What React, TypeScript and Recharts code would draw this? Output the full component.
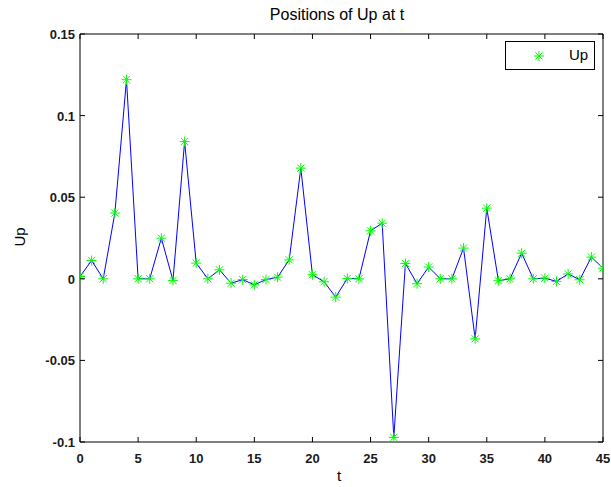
import React from "react";
import { LineChart, Line, XAxis, YAxis, ReferenceArea } from "recharts";

const tValues = [0,1,2,3,4,5,6,7,8,9,10,11,12,13,14,15,16,17,18,19,20,21,22,23,24,25,26,27,28,29,30,31,32,33,34,35,36,37,38,39,40,41,42,43,44,45];
const upValues = [0.0014,0.0112,0,0.0403,0.122,0,0,0.0249,-0.001,0.0841,0.0096,0,0.0055,-0.0027,-0.0005,-0.0037,-0.0005,0.001,0.0116,0.0678,0.0025,-0.0018,-0.0112,0.0002,0,0.0294,0.0341,-0.0972,0.0094,-0.003,0.0072,0,0,0.0188,-0.0368,0.0433,-0.0012,0,0.0157,0,0.0004,-0.0016,0.003,-0.0006,0.0133,0.0065];
const xTicks = [0,5,10,15,20,25,30,35,40,45];
const yTicks = [-0.1,-0.05,0,0.05,0.1,0.15];
const yTickLabels = ["-0.1","-0.05","0","0.05","0.1","0.15"];

const data = tValues.map((t, i) => ({ t, Up: upValues[i] }));

const W = 611, H = 487;
const M = { top: 34, right: 8, bottom: 0, left: 0 };
const YW = 80, XH = 45;
const PLOT_TOP = M.top;
const PLOT_BOTTOM = H - XH;
const PLOT_LEFT = YW;
const PLOT_RIGHT = W - M.right;
const FONT = "Arial, 'Liberation Sans', Helvetica, sans-serif";

const Star = ({ cx, cy, r = 5 }: any) => {
  const d = r * 0.72;
  return (
    <g stroke="#00ff00" strokeWidth={1}>
      <line x1={cx - r} y1={cy} x2={cx + r} y2={cy} />
      <line x1={cx} y1={cy - r} x2={cx} y2={cy + r} />
      <line x1={cx - d} y1={cy - d} x2={cx + d} y2={cy + d} />
      <line x1={cx - d} y1={cy + d} x2={cx + d} y2={cy - d} />
    </g>
  );
};

const StarDot = (props: any) => {
  const { cx, cy, index } = props;
  if (cx == null || cy == null) return <g key={index} />;
  return <Star key={index} cx={cx} cy={cy} />;
};

const XTick = (props: any) => {
  const { x, payload } = props;
  return (
    <g>
      <line x1={x} y1={PLOT_BOTTOM} x2={x} y2={PLOT_BOTTOM - 5} stroke="#000" />
      <line x1={x} y1={PLOT_TOP} x2={x} y2={PLOT_TOP + 5} stroke="#000" />
      <text x={x} y={PLOT_BOTTOM + 21} textAnchor="middle" fontSize={13} fontWeight="bold" fill="#1a1a1a" fontFamily={FONT}>
        {payload.value}
      </text>
    </g>
  );
};

const YTick = (props: any) => {
  const { y, payload } = props;
  return (
    <g>
      <line x1={PLOT_LEFT} y1={y} x2={PLOT_LEFT + 5} y2={y} stroke="#000" />
      <line x1={PLOT_RIGHT} y1={y} x2={PLOT_RIGHT - 5} y2={y} stroke="#000" />
      <text x={PLOT_LEFT - 5} y={y + 5} textAnchor="end" fontSize={13} fontWeight="bold" fill="#1a1a1a" fontFamily={FONT}>
        {yTickLabels[yTicks.indexOf(payload.value)] ?? payload.value}
      </text>
    </g>
  );
};

export default function App() {
  return (
    <div style={{ position: "absolute", left: 0, top: 0, width: W, height: H, background: "#fff" }}>
      <LineChart width={W} height={H} data={data} margin={M}>
        <XAxis
          dataKey="t"
          type="number"
          domain={[0, 45]}
          ticks={xTicks}
          height={XH}
          tickLine={false}
          axisLine={false}
          tickSize={0}
          tickMargin={0}
          tick={<XTick />}
          interval={0}
          allowDataOverflow
        />
        <YAxis
          type="number"
          domain={[-0.1, 0.15]}
          ticks={yTicks}
          width={YW}
          tickLine={false}
          axisLine={false}
          tickSize={0}
          tickMargin={0}
          tick={<YTick />}
          interval={0}
          allowDataOverflow
        />
        <ReferenceArea x1={0} x2={45} y1={-0.1} y2={0.15} fill="none" stroke="#000" strokeWidth={1} ifOverflow="visible" />
        <Line
          type="linear"
          dataKey="Up"
          stroke="#0000ff"
          strokeWidth={1}
          dot={<StarDot />}
          activeDot={false}
          isAnimationActive={false}
        />
      </LineChart>
      <div
        style={{
          position: "absolute",
          left: 505,
          top: 41,
          width: 88,
          height: 27,
          border: "1px solid #000",
          background: "#fff",
          fontFamily: FONT,
        }}
      >
        <svg width={20} height={20} style={{ position: "absolute", left: 23, top: 4 }}>
          <Star cx={10} cy={10} />
        </svg>
        <span style={{ position: "absolute", left: 63, top: 4, fontSize: 15, color: "#000" }}>Up</span>
      </div>
      <div style={{ position: "absolute", left: 0, top: 5, width: 674, textAlign: "center", fontFamily: FONT, fontSize: 16, lineHeight: "20px", color: "#000" }}>
        Positions of Up at t
      </div>
      <div style={{ position: "absolute", left: 330, top: 467, width: 18, textAlign: "center", fontFamily: FONT, fontSize: 15, lineHeight: "18px", color: "#000" }}>
        t
      </div>
      <div style={{ position: "absolute", left: 0, top: 228, transform: "rotate(-90deg)", transformOrigin: "20px 9px", width: 40, textAlign: "center", fontFamily: FONT, fontSize: 15, lineHeight: "18px", color: "#000" }}>
        Up
      </div>
    </div>
  );
}
